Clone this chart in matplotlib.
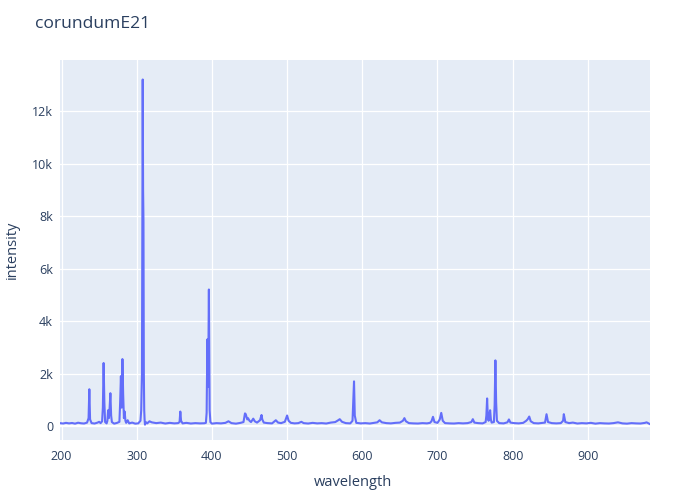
import matplotlib
matplotlib.use("Agg")
import matplotlib.pyplot as plt
from matplotlib.ticker import FuncFormatter, FixedLocator

plt.rcParams['font.family'] = ['Open Sans', 'DejaVu Sans']

title = "corundumE21"
x_label = "wavelength"
y_label = "intensity"

wavelength = [
    198, 202, 206, 210, 214, 218, 222, 226, 230, 234,
    236, 237, 238, 240, 244, 248, 250, 252, 254, 255,
    256, 257, 258, 260, 261, 262, 263, 264, 265, 266,
    267, 270, 274, 277, 278, 279, 280, 281, 282, 283,
    284, 285, 286, 288, 290, 294, 298, 302, 305, 306,
    307, 307.5, 308, 308.5, 309, 309.5, 310, 310.5, 311, 312,
    314, 317, 320, 326, 332, 338, 344, 350, 355, 357,
    358, 359, 361, 366, 372, 378, 384, 390, 392, 393,
    394, 395, 396, 396.5, 397, 398, 400, 406, 412, 418,
    422, 426, 432, 438, 442, 444, 445, 447, 448, 450,
    452, 455, 457, 460, 464, 466, 467, 469, 474, 480,
    485, 488, 492, 497, 500, 502, 505, 510, 515, 519,
    522, 528, 534, 540, 546, 552, 558, 564, 568, 570,
    573, 578, 584, 587, 588, 589, 590, 592, 598, 604,
    610, 616, 620, 623, 626, 632, 638, 644, 650, 654,
    656, 658, 662, 668, 674, 680, 686, 690, 692, 694,
    696, 700, 703, 705, 707, 710, 716, 722, 728, 734,
    740, 745, 747, 749, 754, 760, 764, 765, 766, 767,
    768, 769, 770, 771, 772, 775, 776, 777, 778, 779,
    782, 788, 793, 795, 797, 802, 808, 814, 818, 820,
    822, 824, 828, 834, 840, 843, 845, 847, 852, 858,
    864, 867, 868, 870, 875, 880, 886, 892, 898, 904,
    910, 916, 922, 928, 934, 940, 946, 952, 958, 964,
    970, 976, 978, 982,
]
intensity = [
    110, 95, 120, 100, 115, 90, 125, 105, 95, 130,
    300, 1400, 250, 110, 95, 130, 160, 110, 180, 700,
    2400, 900, 150, 100, 200, 600, 300, 700, 1250, 400,
    150, 90, 120, 160, 900, 1900, 700, 2550, 1200, 300,
    550, 200, 120, 220, 100, 130, 90, 100, 200, 600,
    2000, 8000, 13200, 9000, 7800, 2000, 600, 250, 50, 150,
    100, 180, 140, 110, 130, 95, 120, 100, 110, 150,
    550, 200, 100, 120, 95, 110, 100, 105, 120, 500,
    3300, 1500, 5200, 3000, 600, 150, 90, 110, 100, 120,
    180, 110, 90, 120, 150, 480, 450, 250, 300, 200,
    150, 280, 180, 130, 220, 420, 250, 130, 110, 100,
    220, 130, 110, 160, 400, 200, 120, 100, 110, 160,
    110, 95, 120, 100, 110, 95, 130, 150, 220, 260,
    160, 110, 100, 200, 1000, 1700, 400, 120, 100, 110,
    95, 120, 140, 220, 140, 110, 100, 120, 130, 200,
    300, 180, 110, 100, 95, 110, 100, 120, 180, 350,
    150, 120, 250, 500, 200, 110, 100, 95, 110, 100,
    110, 150, 260, 130, 110, 100, 150, 400, 1050, 300,
    200, 450, 600, 250, 130, 150, 800, 2500, 900, 200,
    110, 100, 140, 250, 130, 110, 100, 120, 200, 260,
    360, 180, 110, 100, 120, 130, 450, 150, 110, 100,
    110, 200, 450, 150, 110, 130, 95, 110, 100, 120,
    90, 110, 100, 95, 110, 140, 100, 90, 110, 100,
    95, 120, 140, 80,
]
assert len(wavelength) == len(intensity)

x_ticks = [200, 300, 400, 500, 600, 700, 800, 900]
y_ticks = [0, 2000, 4000, 6000, 8000, 10000, 12000]

text_color = "#2a3f5f"
fig = plt.figure(figsize=(7, 5), dpi=100)
ax = fig.add_axes([60/700, 60/500, 590/700, 380/500])
ax.set_facecolor("#E5ECF6")
for s in ax.spines.values():
    s.set_visible(False)

ax.plot(wavelength, intensity, color="#636efa", lw=1.5, zorder=3)
ax.axhline(0, color="white", lw=1.5, zorder=2)

ax.set_xlim(198, 982.6)
ax.set_ylim(-533, 13943)
ax.xaxis.set_major_locator(FixedLocator(x_ticks))
ax.yaxis.set_major_locator(FixedLocator(y_ticks))
ax.yaxis.set_major_formatter(FuncFormatter(lambda v, p: "0" if v == 0 else f"{int(v/1000)}k"))
ax.grid(True, color="white", lw=0.9, zorder=1)
ax.set_axisbelow(True)
ax.tick_params(axis='both', length=0, labelsize=9, labelcolor=text_color)
ax.tick_params(axis='x', pad=7)
ax.tick_params(axis='y', pad=5)

fig.text(35/700, 1 - 24/500, title, fontsize=12.6, color=text_color, va='center', ha='left')
fig.text(353/700, 1 - 483/500, x_label, fontsize=10.5, color=text_color, ha='center', va='center')
fig.text(12/700, 1 - 250/500, y_label, fontsize=10.5, color=text_color, ha='center', va='center', rotation=90)

fig.savefig("out.png", dpi=100)
